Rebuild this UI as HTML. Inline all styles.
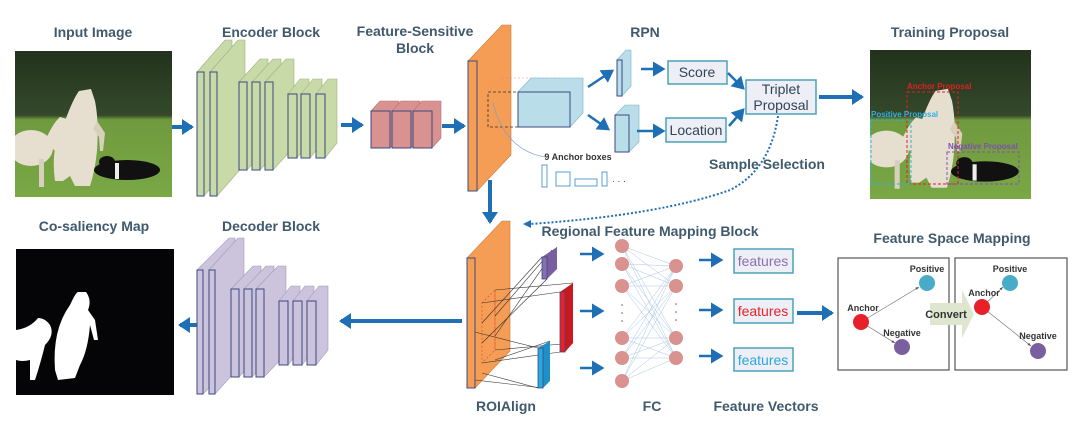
<!DOCTYPE html>
<html><head><meta charset="utf-8"><style>
html,body{margin:0;padding:0;background:#fff;}
svg{display:block;}
.t{font-family:"Liberation Sans Narrow","Liberation Sans",sans-serif;font-weight:bold;fill:#3f5a6c;font-size:14px;text-anchor:middle;}
.s{font-family:"Liberation Sans Narrow","Liberation Sans",sans-serif;font-weight:bold;fill:#333;font-size:9px;text-anchor:middle;}
.g{fill:#c8daa8;stroke:#9fb07a;stroke-width:.6}
.gf{fill:#c8daa8;stroke:#3c4a80;stroke-width:1}
.p{fill:#ccc3dc;stroke:#a49bb8;stroke-width:.6}
.pf{fill:#ccc3dc;stroke:#3c4a80;stroke-width:1}
.k{fill:#d9928f;stroke:#b07572;stroke-width:.6}
.kf{fill:#d9928f;stroke:#3c4a80;stroke-width:1}
.o{fill:#f59d55;stroke:#c77a3a;stroke-width:.6}
.of{fill:#f59d55;stroke:#3c4a80;stroke-width:1}
.b{fill:#b9dde9;stroke:#7fb3c8;stroke-width:.6}
.bf{fill:#b9dde9;stroke:#3c4a80;stroke-width:1}
.ar{stroke:#1f6fb5;stroke-width:4;fill:none}
.ar2{stroke:#1f6fb5;stroke-width:2.5;fill:none}
.box{fill:#eeeef6;stroke:#4aa3b8;stroke-width:1.5}
.bt{font-family:"Liberation Sans Narrow","Liberation Sans",sans-serif;font-size:14px;fill:#2f4656;text-anchor:middle;}
.fc{fill:#d9928f;}
.nl{stroke:#a8c4e6;stroke-width:.5}
</style></head><body>
<svg width="1080" height="422" viewBox="0 0 1080 422" xmlns="http://www.w3.org/2000/svg">
<defs>
<marker id="ah" markerWidth="4" markerHeight="4" refX="2.5" refY="2" orient="auto" markerUnits="strokeWidth"><path d="M0,0 L3,2 L0,4 z" fill="#1f6fb5"/></marker>
<marker id="ah2" markerWidth="6" markerHeight="6" refX="4" refY="3" orient="auto" markerUnits="strokeWidth"><path d="M0,0 L5,3 L0,6 z" fill="#1f6fb5"/></marker>
<marker id="ak" markerWidth="6" markerHeight="6" refX="5" refY="3" orient="auto" markerUnits="strokeWidth"><path d="M0,1 L5,3 L0,5 z" fill="#555"/></marker>
<linearGradient id="sky" x1="0" y1="0" x2="0" y2="1"><stop offset="0" stop-color="#22321d"/><stop offset=".44" stop-color="#34492a"/><stop offset=".47" stop-color="#6f9a3e"/><stop offset="1" stop-color="#7aa845"/></linearGradient>
<symbol id="photo" viewBox="0 0 157 146" preserveAspectRatio="none">
<rect width="157" height="146" fill="url(#sky)"/>
<ellipse cx="16" cy="97" rx="22" ry="18" fill="#e6dfcf"/>
<path d="M30 90 Q38 72 45 66 L52 68 L50 76 Q44 82 40 100z" fill="#e6dfcf"/>
<rect x="24" y="108" width="5" height="28" fill="#d8d0bc"/>
<path d="M40 130 Q35 95 50 70 Q58 48 64 40 L76 38 L80 50 Q84 70 82 100 Q80 120 75 135 L60 135 L55 125 L48 130z" fill="#e6dfcf"/>
<path d="M82 70 L90 82 L88 100 L85 100 L84 86 L78 78z" fill="#d8d0bc"/>
<ellipse cx="112" cy="119" rx="33" ry="10" fill="#111"/>
<ellipse cx="92" cy="111" rx="8" ry="6" fill="#111"/>
<rect x="100" y="112" width="4" height="16" fill="#eee"/>
</symbol>
</defs>

<text class="t" x="93" y="37">Input Image</text>
<text class="t" x="271" y="37">Encoder Block</text>
<text class="t" x="415" y="36">Feature-Sensitive</text>
<text class="t" x="415" y="53">Block</text>
<text class="t" x="645" y="37">RPN</text>
<text class="t" x="950" y="37">Training Proposal</text>
<text class="t" x="94" y="231">Co-saliency Map</text>
<text class="t" x="271" y="231">Decoder Block</text>
<text class="t" x="650" y="236">Regional Feature Mapping Block</text>
<text class="t" x="952" y="243">Feature Space Mapping</text>
<text class="t" x="506" y="411">ROIAlign</text>
<text class="t" x="652" y="411">FC</text>
<text class="t" x="766" y="411">Feature Vectors</text>

<use href="#photo" x="15" y="51" width="157" height="146"/>
<line class="ar" x1="172" y1="127" x2="192" y2="127" marker-end="url(#ah)"/>

<path class="g" d="M197 72 l28 -32 h7 v124 l-28 32 v-124 h-7z"/><rect class="gf" x="197" y="72" width="7" height="124"/>
<path class="g" d="M210 72 l28 -32 h7 v124 l-28 32 v-124 h-7z"/><rect class="gf" x="210" y="72" width="7" height="124"/>
<path class="g" d="M239 82 l21 -23 h8 v88 l-21 23 v-88 h-8z"/><rect class="gf" x="239" y="82" width="8" height="88"/>
<path class="g" d="M252 82 l21 -23 h8 v88 l-21 23 v-88 h-8z"/><rect class="gf" x="252" y="82" width="8" height="88"/>
<path class="g" d="M265 82 l21 -23 h8 v88 l-21 23 v-88 h-8z"/><rect class="gf" x="265" y="82" width="8" height="88"/>
<path class="g" d="M288 94 l12 -15 h9 v64 l-12 15 v-64 h-9z"/><rect class="gf" x="288" y="94" width="9" height="64"/>
<path class="g" d="M301 94 l12 -15 h9 v64 l-12 15 v-64 h-9z"/><rect class="gf" x="301" y="94" width="9" height="64"/>
<path class="g" d="M316 94 l12 -15 h9 v64 l-12 15 v-64 h-9z"/><rect class="gf" x="316" y="94" width="9" height="64"/>
<line class="ar" x1="341" y1="125" x2="362" y2="125" marker-end="url(#ah)"/>

<path class="k" d="M371 111 l9 -10 h19 v37 l-9 10 v-37 h-19z"/><rect class="kf" x="371" y="111" width="19" height="37"/>
<path class="k" d="M392 111 l9 -10 h19 v37 l-9 10 v-37 h-19z"/><rect class="kf" x="392" y="111" width="19" height="37"/>
<path class="k" d="M413 111 l9 -10 h19 v37 l-9 10 v-37 h-19z"/><rect class="kf" x="413" y="111" width="19" height="37"/>
<line class="ar" x1="442" y1="126" x2="464" y2="126" marker-end="url(#ah)"/>

<path class="o" d="M468 61 l34 -36 h9 v130 l-34 36 v-130 h-9z"/><rect class="of" x="468" y="61" width="9" height="130"/>
<rect x="488" y="92" width="30" height="35" fill="none" stroke="#333" stroke-width=".8" stroke-dasharray="3,2"/>
<path d="M488 92 l13 -14 h60" fill="none" stroke="#c88" stroke-width=".5" stroke-dasharray="2,2"/>
<path d="M493 103 Q505 150 545 157" fill="none" stroke="#7aa0d0" stroke-width=".7"/>
<path class="b" d="M518 92 l13 -14 h52 v35 l-13 14 v-35 h-52z"/><rect class="bf" x="518" y="92" width="52" height="35"/>
<line class="ar2" x1="588" y1="87" x2="612" y2="71" marker-end="url(#ah2)"/>
<line class="ar2" x1="588" y1="115" x2="608" y2="129" marker-end="url(#ah2)"/>
<path class="b" d="M617 60 l9 -10 h5 v36 l-9 10 v-36 h-5z"/><rect class="bf" x="617" y="60" width="5" height="36"/>
<path class="b" d="M615 115 l10 -10 h14 v37 l-10 10 v-37 h-14z"/><rect class="bf" x="615" y="115" width="14" height="37"/>
<line class="ar2" x1="641" y1="69" x2="663" y2="69" marker-end="url(#ah2)"/>
<line class="ar2" x1="637" y1="131" x2="663" y2="131" marker-end="url(#ah2)"/>
<rect class="box" x="668" y="61" width="59" height="23"/><text class="bt" x="697" y="77">Score</text>
<rect class="box" x="666" y="118" width="60" height="24"/><text class="bt" x="696" y="135">Location</text>
<line class="ar2" x1="728" y1="73" x2="743" y2="88" marker-end="url(#ah2)"/>
<line class="ar2" x1="729" y1="126" x2="743" y2="110" marker-end="url(#ah2)"/>
<rect class="box" x="746" y="80" width="70" height="34"/>
<text class="bt" x="781" y="94">Triplet</text><text class="bt" x="781" y="110">Proposal</text>
<line class="ar" x1="819" y1="97" x2="862" y2="97" marker-end="url(#ah)"/>
<text class="s" x="578" y="160">9 Anchor boxes</text>
<g fill="none" stroke="#5a9fd4" stroke-width="1">
<rect x="542" y="165" width="5" height="22"/><rect x="556" y="172" width="14" height="14"/><rect x="575" y="179" width="22" height="7"/><rect x="602" y="172" width="5" height="14"/></g>
<text x="612" y="182" font-family="Liberation Sans" font-size="10" fill="#555">. . .</text>
<text class="t" x="767" y="169" font-size="12">Sample Selection</text>
<path d="M778 116 Q770 170 730 190 Q660 215 530 224" fill="none" stroke="#1f6fb5" stroke-width="2" stroke-dasharray="2,2"/>
<path d="M523 224 l8 -4 v8z" fill="#1f6fb5"/>
<line class="ar" x1="490" y1="180" x2="490" y2="222" marker-end="url(#ah)"/>

<use href="#photo" x="870" y="50" width="161" height="149"/>
<rect x="907" y="92" width="51" height="92" fill="none" stroke="#e02020" stroke-width="1" stroke-dasharray="3,2"/>
<rect x="871" y="120" width="40" height="64" fill="none" stroke="#30b0e0" stroke-width="1" stroke-dasharray="3,2"/>
<rect x="947" y="152" width="72" height="32" fill="none" stroke="#8050b0" stroke-width="1" stroke-dasharray="3,2"/>
<text x="907" y="89" font-family="Liberation Sans Narrow,Liberation Sans" font-weight="bold" font-size="8" fill="#e02020">Anchor Proposal</text>
<text x="871" y="117" font-family="Liberation Sans Narrow,Liberation Sans" font-weight="bold" font-size="8" fill="#30b0e0">Positive Proposal</text>
<text x="948" y="149" font-family="Liberation Sans Narrow,Liberation Sans" font-weight="bold" font-size="8" fill="#8050b0">Negative Proposal</text>

<rect x="16" y="249" width="158" height="146" fill="#050507"/>
<path d="M16 330 Q30 328 38 318 Q45 318 50 325 Q55 335 45 345 Q40 365 35 380 L30 380 L30 360 Q22 362 16 360z" fill="#fff"/>
<path d="M55 370 Q52 330 70 305 Q76 292 78 292 L86 292 Q92 300 88 310 L95 320 L98 340 L94 340 L90 325 Q88 350 80 365 L75 378 L58 380z" fill="#fff"/>
<line class="ar" x1="200" y1="325" x2="180" y2="325" marker-end="url(#ah)"/>

<path class="p" d="M197 270 l32 -32 h6 v124 l-32 32 v-124 h-6z"/><rect class="pf" x="197" y="270" width="6" height="124"/>
<path class="p" d="M209 270 l29 -32 h6 v124 l-29 32 v-124 h-6z"/><rect class="pf" x="209" y="270" width="6" height="124"/>
<path class="p" d="M231 289 l22 -23 h8 v88 l-22 23 v-88 h-8z"/><rect class="pf" x="231" y="289" width="8" height="88"/>
<path class="p" d="M244 289 l22 -23 h8 v88 l-22 23 v-88 h-8z"/><rect class="pf" x="244" y="289" width="8" height="88"/>
<path class="p" d="M256 289 l22 -23 h8 v88 l-22 23 v-88 h-8z"/><rect class="pf" x="256" y="289" width="8" height="88"/>
<path class="p" d="M279 301 l12 -15 h9 v64 l-12 15 v-64 h-9z"/><rect class="pf" x="279" y="301" width="9" height="64"/>
<path class="p" d="M293 301 l12 -15 h9 v64 l-12 15 v-64 h-9z"/><rect class="pf" x="293" y="301" width="9" height="64"/>
<path class="p" d="M307 301 l12 -15 h9 v64 l-12 15 v-64 h-9z"/><rect class="pf" x="307" y="301" width="9" height="64"/>
<line class="ar" x1="462" y1="321" x2="341" y2="321" marker-end="url(#ah)"/>

<path class="o" d="M467 258 l35 -37 h8 v130 l-35 37 v-130 h-8z"/><rect class="of" x="467" y="258" width="8" height="130"/>
<g fill="none" stroke="#e05030" stroke-width=".7" stroke-dasharray="2,2"><path d="M482 303 l13 -13 v60 l-13 13z"/><path d="M495 290 v60"/></g>
<g stroke="#333" stroke-width=".6" fill="none">
<line x1="482" y1="303" x2="560" y2="292"/><line x1="495" y1="290" x2="573" y2="283"/>
<line x1="482" y1="363" x2="560" y2="352"/><line x1="495" y1="350" x2="573" y2="343"/>
<line x1="482" y1="323" x2="542" y2="257"/><line x1="495" y1="336" x2="557" y2="247"/>
<line x1="482" y1="343" x2="547" y2="279"/><line x1="495" y1="316" x2="552" y2="250"/>
<line x1="475" y1="332" x2="538" y2="348"/><line x1="482" y1="373" x2="538" y2="388"/>
<line x1="475" y1="380" x2="543" y2="388"/><line x1="495" y1="360" x2="550" y2="341"/>
</g>
<path d="M542 257 l15 -10 v22 l-10 10z" fill="#7a5fa0"/><rect x="542" y="257" width="5" height="22" fill="#8a6fb0" stroke="#3c4a80" stroke-width=".8"/>
<path d="M560 292 l13 -9 v60 l-8 9z" fill="#c81820"/><rect x="560" y="292" width="5" height="60" fill="#e8202a" stroke="#3c4a80" stroke-width=".8"/>
<path d="M538 348 l12 -7 v40 l-7 7z" fill="#1e90c8"/><rect x="538" y="348" width="5" height="40" fill="#29a8e0" stroke="#3c4a80" stroke-width=".8"/>

<line class="ar2" x1="580" y1="254" x2="602" y2="254" marker-end="url(#ah2)"/>
<line class="ar2" x1="580" y1="311" x2="602" y2="311" marker-end="url(#ah2)"/>
<line class="ar2" x1="580" y1="368" x2="602" y2="368" marker-end="url(#ah2)"/>

<g class="nl">
<path d="M622 246 L676 266 M622 246 L676 286 M622 246 L676 338 M622 246 L676 358 M622 264 L676 266 M622 264 L676 286 M622 264 L676 338 M622 264 L676 358 M622 286 L676 266 M622 286 L676 286 M622 286 L676 338 M622 286 L676 358 M622 338 L676 266 M622 338 L676 286 M622 338 L676 338 M622 338 L676 358 M622 358 L676 266 M622 358 L676 286 M622 358 L676 338 M622 358 L676 358 M622 381 L676 266 M622 381 L676 286 M622 381 L676 338 M622 381 L676 358"/>
</g>
<g class="fc"><circle cx="622" cy="246" r="7"/><circle cx="622" cy="264" r="7"/><circle cx="622" cy="286" r="7"/><circle cx="622" cy="338" r="7"/><circle cx="622" cy="358" r="7"/><circle cx="622" cy="381" r="7"/>
<circle cx="676" cy="266" r="7"/><circle cx="676" cy="286" r="7"/><circle cx="676" cy="338" r="7"/><circle cx="676" cy="358" r="7"/></g>
<g fill="#666"><circle cx="622" cy="305" r=".8"/><circle cx="622" cy="313" r=".8"/><circle cx="622" cy="321" r=".8"/><circle cx="676" cy="304" r=".8"/><circle cx="676" cy="312" r=".8"/><circle cx="676" cy="320" r=".8"/></g>

<line class="ar2" x1="699" y1="260" x2="721" y2="260" marker-end="url(#ah2)"/>
<line class="ar2" x1="699" y1="310" x2="721" y2="310" marker-end="url(#ah2)"/>
<line class="ar2" x1="699" y1="356" x2="721" y2="356" marker-end="url(#ah2)"/>
<rect class="box" x="734" y="249" width="59" height="24"/><text class="bt" x="763" y="266" style="fill:#8a6fb0">features</text>
<rect class="box" x="734" y="299" width="59" height="24"/><text class="bt" x="763" y="316" style="fill:#e8202a">features</text>
<rect class="box" x="734" y="348" width="59" height="23"/><text class="bt" x="763" y="365" style="fill:#29a8e0">features</text>
<line class="ar" x1="797" y1="313" x2="832" y2="313" marker-end="url(#ah)"/>

<rect x="838" y="258" width="111" height="112" fill="#fff" stroke="#555" stroke-width="1.2"/>
<rect x="955" y="258" width="112" height="112" fill="#fff" stroke="#555" stroke-width="1.2"/>
<g stroke="#777" stroke-width=".7"><line x1="861" y1="322" x2="919" y2="287" marker-end="url(#ak)"/><line x1="861" y1="322" x2="895" y2="343" marker-end="url(#ak)"/>
<line x1="982" y1="307" x2="1003" y2="287" marker-end="url(#ak)"/><line x1="982" y1="307" x2="1031" y2="346" marker-end="url(#ak)"/></g>
<circle cx="861" cy="322" r="8" fill="#e8202a"/><circle cx="927" cy="283" r="8" fill="#4aabc8"/><circle cx="902" cy="347" r="8" fill="#7a5fa0"/>
<circle cx="982" cy="307" r="8" fill="#e8202a"/><circle cx="1010" cy="283" r="8" fill="#4aabc8"/><circle cx="1038" cy="351" r="8" fill="#7a5fa0"/>
<g class="s"><text x="863" y="311">Anchor</text><text x="927" y="272">Positive</text><text x="902" y="336">Negative</text>
<text x="984" y="296">Anchor</text><text x="1010" y="272">Positive</text><text x="1038" y="339">Negative</text></g>
<path d="M930 303 h32 v-13 l12 24 l-12 24 v-13 h-32z" fill="#dfe6cf"/>
<text x="946" y="318" font-family="Liberation Sans Narrow,Liberation Sans" font-weight="bold" font-size="11" fill="#333" text-anchor="middle">Convert</text>
</svg>
</body></html>
